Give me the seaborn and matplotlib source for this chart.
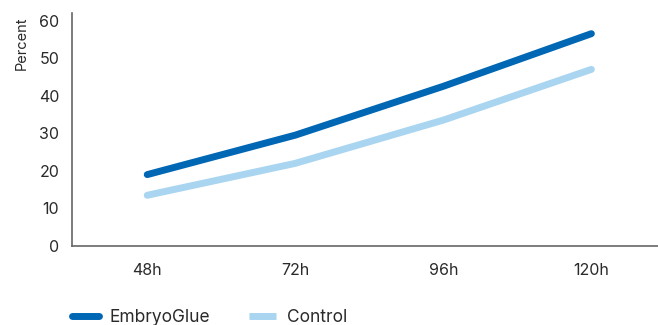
import matplotlib
matplotlib.use("Agg")
import matplotlib.pyplot as plt
import seaborn as sns
import pandas as pd

timepoints = ["48h", "72h", "96h", "120h"]
embryoglue = [19, 29.5, 42.5, 56.5]
control = [13.5, 22, 33.5, 47]
series_names = ["EmbryoGlue", "Control"]
series_colors = ["#0067b4", "#a9d5f1"]

df = pd.DataFrame({
    "time": timepoints * 2,
    "x": list(range(len(timepoints))) * 2,
    "value": embryoglue + control,
    "series": [series_names[0]] * 4 + [series_names[1]] * 4,
})

sns.set_theme(style="white")
plt.rcParams["font.family"] = ["Inter", "DejaVu Sans"]

fig = plt.figure(figsize=(6.58, 3.25), dpi=100)
ax = fig.add_axes([0.109, 0.243, 0.891, 0.717])

sns.lineplot(data=df, x="x", y="value", hue="series", hue_order=series_names,
             palette=series_colors, linewidth=5, solid_capstyle="round",
             ax=ax, legend=False)

ax.set_xlim(-0.51, 3.45)
ax.set_ylim(0, 62)
ax.set_xticks(range(len(timepoints)))
ax.set_xticklabels(timepoints)
ax.set_yticks(range(0, 61, 10))
ax.tick_params(axis="both", length=0, labelsize=11.5, colors="#2a2a2a")
ax.tick_params(axis="x", pad=12)
ax.tick_params(axis="y", pad=9)
ax.set_xlabel("")
ax.set_ylabel("Percent", fontsize=10.5, color="#2a2a2a")
ax.yaxis.set_label_coords(-0.073, 0.87)

for side in ["top", "right"]:
    ax.spines[side].set_visible(False)
for side in ["left", "bottom"]:
    ax.spines[side].set_color("#666666")
    ax.spines[side].set_linewidth(1.2)

handles = [
    plt.Line2D([], [], color=series_colors[0], linewidth=5, solid_capstyle="round"),
    plt.Line2D([], [], color=series_colors[1], linewidth=5, solid_capstyle="butt"),
]
fig.legend(handles, series_names, loc="lower left", bbox_to_anchor=(0.093, -0.036),
           ncol=2, frameon=False, fontsize=12.5, handlelength=1.6,
           handletextpad=0.6, columnspacing=2.2, labelcolor="#2a2a2a",
           borderaxespad=0.2)

fig.savefig("out.png", dpi=100)
